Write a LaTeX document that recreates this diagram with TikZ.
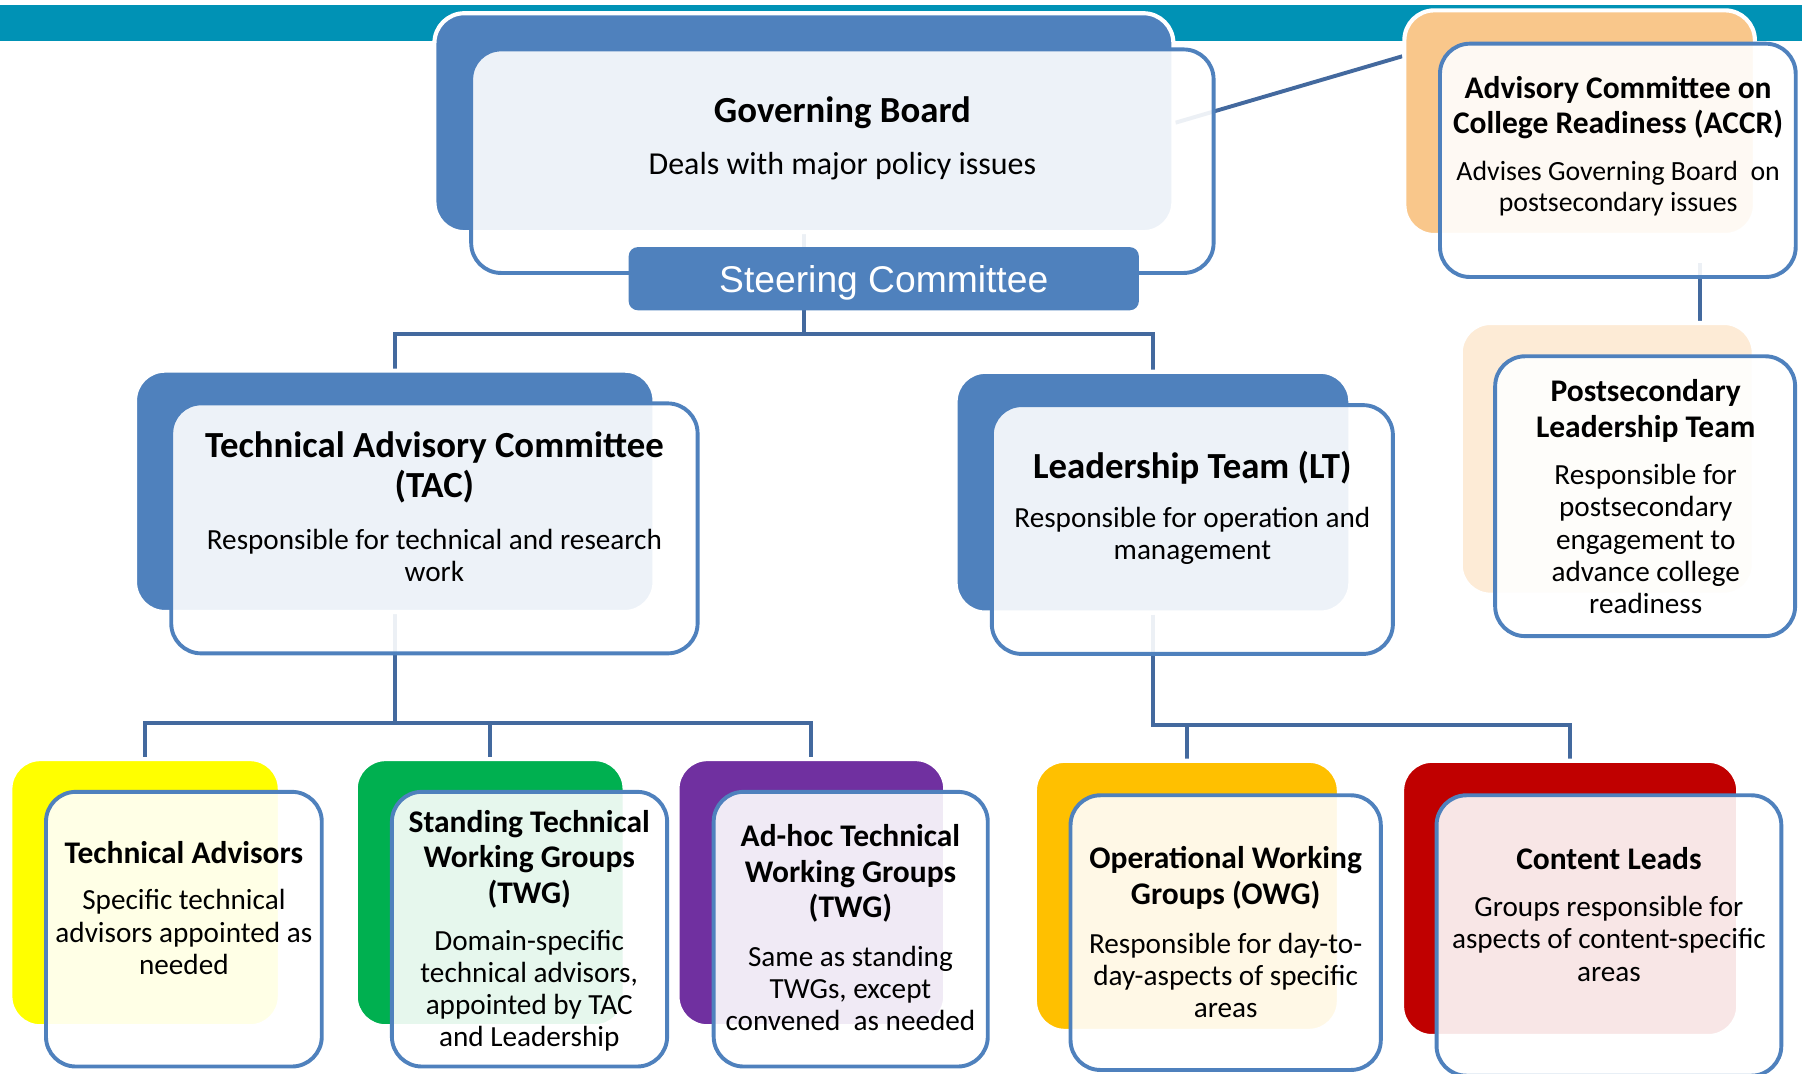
\documentclass[tikz,border=0pt]{standalone}
\usepackage{fontspec}
\setmainfont{Carlito}
\newfontfamily\arialfont{Liberation Sans}
\usetikzlibrary{fit}
\definecolor{teal1}{HTML}{0092B5}
\definecolor{blue1}{HTML}{4F81BD}
\definecolor{conncol}{HTML}{43699E}
\definecolor{orange1}{HTML}{F9C78B}
\definecolor{orange2}{HTML}{FDEBD6}
\definecolor{yellow1}{HTML}{FFFF00}
\definecolor{green1}{HTML}{00B050}
\definecolor{purple1}{HTML}{7030A0}
\definecolor{gold1}{HTML}{FFC000}
\definecolor{red1}{HTML}{C00000}
\pgfdeclarelayer{band}
\pgfdeclarelayer{lines}
\pgfsetlayers{band,lines,main}
\tikzset{
  backbox/.style={draw=white, line width=1.8pt, rounded corners=13pt, inner sep=0pt},
  frontbox/.style={draw=blue1, line width=1.7pt, fill=white, fill opacity=0.9, rounded corners=13pt, inner sep=0pt},
  steerbox/.style={fill=blue1, rounded corners=4pt, inner sep=0pt},
  conn/.style={draw=conncol, line width=1.7pt},
  ttlbig/.style={font=\bfseries\fontsize{16}{17.5}\selectfont, align=center, inner sep=0pt},
  ttlsmall/.style={font=\bfseries\fontsize{13.7}{15.5}\selectfont, align=center, inner sep=0pt},
  bodytxt/.style={font=\fontsize{12.7}{14}\selectfont, align=center, inner sep=0pt},
  bodygb/.style={font=\fontsize{13.9}{16}\selectfont, align=center, inner sep=0pt},
  bodyaccr/.style={font=\fontsize{12.1}{13.5}\selectfont, align=center, inner sep=0pt},
  steertxt/.style={font=\arialfont\fontsize{16.2}{18}\selectfont, text=white, inner sep=0pt}
}
\begin{document}
\begin{tikzpicture}[x=0.5pt,y=-0.5pt]
\useasboundingbox (0,0) rectangle (1568,934);
\begin{pgfonlayer}{band}
\fill[teal1] (0,4) rectangle (1568,36);
\end{pgfonlayer}

% back boxes
\node[backbox, fill=blue1, fit={(378,11.5) (1021,202)}] (gbB) {};
\node[backbox, fill=orange1, fit={(1222,9) (1527,204.5)}] (accrB) {};
\node[backbox, fill=orange2, fit={(1271,281) (1526,517.5)}] (postB) {};
\node[backbox, fill=blue1, fit={(117.5,322.5) (569.5,532.5)}] (tacB) {};
\node[backbox, fill=blue1, fit={(831.5,323.5) (1175,533)}] (ltB) {};
\node[backbox, fill=yellow1, fit={(9,660.5) (243.5,893)}] (taB) {};
\node[backbox, fill=green1, fit={(309.5,660.5) (543.5,893)}] (stB) {};
\node[backbox, fill=purple1, fit={(589.5,660.5) (822.5,893)}] (ahB) {};
\node[backbox, fill=gold1, fit={(900.5,662) (1165,897)}] (owB) {};
\node[backbox, fill=red1, fit={(1220,662) (1512.5,901.5)}] (clB) {};

% front boxes
\node[frontbox, fit={(410,43) (1056,237.5)}] (gbF) {};
\node[frontbox, fit={(1253,38) (1562.5,241)}] (accrF) {};
\node[frontbox, fit={(1301,310) (1562,553.5)}] (postF) {};
\node[frontbox, fit={(149,351) (607,568.5)}] (tacF) {};
\node[frontbox, fit={(863,352.5) (1212,569)}] (ltF) {};
\node[frontbox, fit={(40,689) (280,928)}] (taF) {};
\node[frontbox, fit={(341,689) (580.5,928)}] (stF) {};
\node[frontbox, fit={(621,689) (859.5,928)}] (ahF) {};
\node[frontbox, fit={(931.5,692) (1201.5,931)}] (owF) {};
\node[frontbox, fit={(1250,692) (1550,936)}] (clF) {};

% steering committee
\node[steerbox, fit={(547,215) (991,270)}] (steer) {};

% connectors
\coordinate (j1) at (699.5,291);
\coordinate (j2) at (343.5,629);
\coordinate (j3) at (1003.25,631);
\coordinate (ap) at (1479,229);
\begin{pgfonlayer}{lines}
\draw[conn] (gbB.south) -- (j1) -| (tacB.north);
\draw[conn] (j1) -| (ltB.north);
\draw[conn] (tacB.south) -- (j2) -| (taB.north);
\draw[conn] (j2) -| (stB.north);
\draw[conn] (j2) -| (ahB.north);
\draw[conn] (ltB.south) -- (j3) -| (owB.north);
\draw[conn] (j3) -| (clB.north);
\draw[conn] (gbB.east) -- ([yshift=28.9pt]accrB.west);
\draw[conn] (ap) -- (ap |- postB.north);
\end{pgfonlayer}

% texts
\node[ttlbig] (gbT) at (733,98) {Governing Board};
\node[bodygb] (gbD) at (733,144.5) {Deals with major policy issues};
\node[steertxt] (steerT) at (769,246) {Steering Committee};
\node[ttlsmall] (accrT) at (1408,93.5) {Advisory Committee on\\College Readiness (ACCR)};
\node[bodyaccr] (accrD) at (1408,164.5) {Advises Governing Board\ \ on\\postsecondary issues};
\node[ttlsmall] (postT) at (1432,357.5) {Postsecondary\\Leadership Team};
\node[bodytxt] (postD) at (1432,469) {Responsible for\\postsecondary\\engagement to\\advance college\\readiness};
\node[ttlbig] (tacT) at (378,406.5) {Technical Advisory Committee\\(TAC)};
\node[bodytxt] (tacD) at (378,483) {Responsible for technical and research\\work};
\node[ttlbig] (ltT) at (1037.5,407) {Leadership Team (LT)};
\node[bodytxt] (ltD) at (1037.5,466) {Responsible for operation and\\management};
\node[ttlsmall] (taT) at (160,742) {Technical Advisors};
\node[bodytxt] (taD) at (160,811) {Specific technical\\advisors appointed as\\needed};
\node[ttlsmall] (stT) at (460.5,747.5) {Standing Technical\\Working Groups\\(TWG)};
\node[bodytxt] (stD) at (460.5,862) {Domain-specific\\technical advisors,\\appointed by TAC\\and Leadership};
\node[ttlsmall] (ahT) at (740,760) {Ad-hoc Technical\\Working Groups\\(TWG)};
\node[bodytxt] (ahD) at (740,860) {Same as standing\\TWGs, except\\convened\ \ as needed};
\node[ttlsmall] (owT) at (1066.5,764) {Operational Working\\Groups (OWG)};
\node[bodytxt] (owD) at (1066.5,849) {Responsible for day-to-\\day-aspects of specific\\areas};
\node[ttlsmall] (clT) at (1400,747) {Content Leads};
\node[bodytxt] (clD) at (1400,817) {Groups responsible for\\aspects of content-specific\\areas};
\end{tikzpicture}
\end{document}
